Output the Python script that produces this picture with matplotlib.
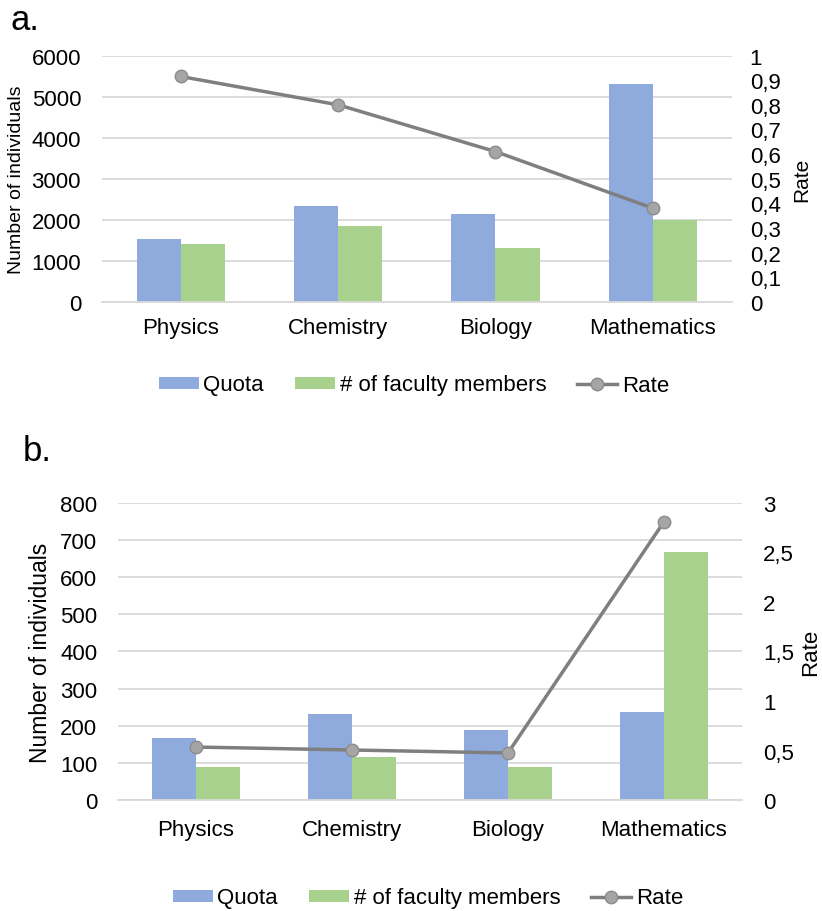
import matplotlib.pyplot as plt
import numpy as np

plt.rcParams['font.family'] = ['Liberation Sans', 'DejaVu Sans']

# data
subjects = ["Physics", "Chemistry", "Biology", "Mathematics"]

quota_a = [1520, 2340, 2150, 5300]
faculty_a = [1400, 1850, 1320, 2000]
rate_a = [0.915, 0.80, 0.61, 0.38]

quota_b = [167, 232, 189, 237]
faculty_b = [90, 116, 89, 668]
rate_b = [0.535, 0.505, 0.475, 2.81]

ticks_left_a = [0, 1000, 2000, 3000, 4000, 5000, 6000]
ticks_right_a = [0, 0.1, 0.2, 0.3, 0.4, 0.5, 0.6, 0.7, 0.8, 0.9, 1]
ticks_left_b = [0, 100, 200, 300, 400, 500, 600, 700, 800]
ticks_right_b = [0, 0.5, 1, 1.5, 2, 2.5, 3]

BLUE = '#8faadc'
GREEN = '#a9d18e'
LINE = '#7f7f7f'
GRID = '#d9d9d9'


def comma(v):
    return ('%g' % v).replace('.', ',')


def panel(rect, quota, faculty, rate, lticks, rticks, st, legend_xy):
    ax = fig.add_axes(rect)
    x = np.arange(len(subjects))
    w = 0.28
    ax.bar(x - w / 2, quota, w, color=BLUE, label='Quota', zorder=2)
    ax.bar(x + w / 2, faculty, w, color=GREEN, label='# of faculty members', zorder=2)
    ax.set_xlim(-0.5, len(subjects) - 0.5)
    ax.set_ylim(lticks[0], lticks[-1])
    ax.set_yticks(lticks)
    ax.set_xticks(x)
    ax.set_xticklabels(subjects, fontsize=st['cat'])
    ax.tick_params(axis='y', labelsize=st['tick'], length=0, pad=st['lpad'])
    ax.tick_params(axis='x', length=0, pad=st['xpad'])
    ax.grid(axis='y', color=GRID, linewidth=1.3, zorder=0)
    ax.set_axisbelow(True)
    for s in ax.spines.values():
        s.set_visible(False)
    ax.spines['bottom'].set_visible(True)
    ax.spines['bottom'].set_color(GRID)
    ax.spines['bottom'].set_linewidth(1.3)
    ax.set_ylabel('Number of individuals', fontsize=st['ylab'])
    ax.yaxis.set_label_coords(st['ylab_x'], 0.5)

    ax2 = ax.twinx()
    ax2.plot(x, rate, color=LINE, linewidth=2.5, marker='o', markersize=9,
             markerfacecolor='#a5a5a5', markeredgecolor='#8c8c8c', label='Rate', zorder=3)
    ax2.set_ylim(rticks[0], rticks[-1])
    ax2.set_yticks(rticks)
    ax2.set_yticklabels([comma(t) for t in rticks])
    ax2.tick_params(axis='y', labelsize=st['tick'], length=0, pad=st['rpad'])
    for s in ax2.spines.values():
        s.set_visible(False)
    ax2.set_ylabel('Rate', fontsize=st['rlab'])
    ax2.yaxis.set_label_coords(st['rlab_x'], 0.5)

    h1, l1 = ax.get_legend_handles_labels()
    h2, l2 = ax2.get_legend_handles_labels()
    fig.legend(h1 + h2, l1 + l2, loc='center', bbox_to_anchor=legend_xy,
               ncol=3, frameon=False, fontsize=16, handlelength=1.8,
               handleheight=0.45, columnspacing=1.4, handletextpad=0.2,
               borderpad=0, borderaxespad=0)
    return ax


fig = plt.figure(figsize=(8.22, 9.12), dpi=100)

style_a = dict(cat=16, tick=16, lpad=15, rpad=13, xpad=11, ylab=14, ylab_x=-0.122,
               rlab=15, rlab_x=1.097)
style_b = dict(cat=16, tick=16, lpad=15, rpad=15, xpad=14, ylab=16.5, ylab_x=-0.106,
               rlab=16, rlab_x=1.093)

panel([0.124, 0.668, 0.766, 0.270], quota_a, faculty_a, rate_a,
      ticks_left_a, ticks_right_a, style_a, (414 / 822, 1 - 386 / 912))
panel([0.1436, 0.1217, 0.759, 0.3257], quota_b, faculty_b, rate_b,
      ticks_left_b, ticks_right_b, style_b, (428 / 822, 1 - 899 / 912))

fig.text(25 / 822, 1 - 20 / 912, 'a.', fontsize=25, ha='center', va='center')
fig.text(37 / 822, 1 - 452 / 912, 'b.', fontsize=25, ha='center', va='center')

plt.savefig('out.png', dpi=100)
